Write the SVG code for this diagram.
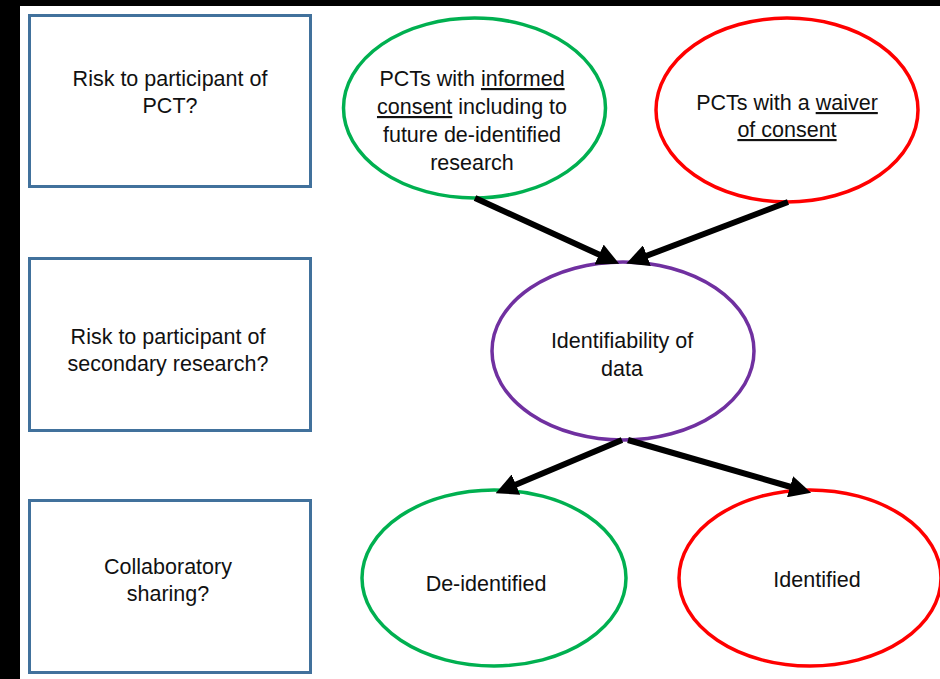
<svg xmlns="http://www.w3.org/2000/svg" width="940" height="679" viewBox="0 0 940 679">
<style>
.box{fill:#fff;stroke:#41719C;stroke-width:3}
.ell{fill:#fff;stroke-width:3.5}
.t{font-family:"Liberation Sans",Arial,sans-serif;font-size:21.5px;fill:#111;text-anchor:middle}
.u{text-decoration:underline}
.con{stroke:#000;stroke-width:6;fill:none}
</style>
<defs>
<marker id="ah" markerUnits="userSpaceOnUse" markerWidth="22" markerHeight="22" viewBox="0 0 22 22" refX="1" refY="11" orient="auto">
<path d="M0,0 L22,11 L0,22 z" fill="#000"/>
</marker>
</defs>
<rect x="0" y="0" width="940" height="679" fill="#000"/>
<rect x="20" y="6" width="920" height="673" fill="#fff"/>

<g id="box-risk-pct">
<rect class="box" x="29.5" y="15.5" width="281" height="171"/>
<text class="t" x="170" y="86">Risk to participant of</text>
<text class="t" x="170" y="113">PCT?</text>
</g>
<g id="box-risk-secondary">
<rect class="box" x="29.5" y="258.5" width="281" height="172"/>
<text class="t" x="168" y="344">Risk to participant of</text>
<text class="t" x="168" y="371">secondary research?</text>
</g>
<g id="box-collab">
<rect class="box" x="29.5" y="500.5" width="281" height="172"/>
<text class="t" x="168" y="574">Collaboratory</text>
<text class="t" x="168" y="601">sharing?</text>
</g>

<g id="ell-informed">
<ellipse class="ell" stroke="#00B050" cx="474.5" cy="108" rx="131" ry="90"/>
<text class="t" x="472" y="86">PCTs with <tspan class="u">informed</tspan></text>
<text class="t" x="472" y="114"><tspan class="u">consent</tspan> including to</text>
<text class="t" x="472" y="142">future de-identified</text>
<text class="t" x="472" y="170">research</text>
</g>
<g id="ell-waiver">
<ellipse class="ell" stroke="#FF0000" cx="787" cy="110" rx="131" ry="92"/>
<text class="t" x="787" y="110">PCTs with a <tspan class="u">waiver</tspan></text>
<text class="t" x="787" y="137"><tspan class="u">of consent</tspan></text>
</g>
<g id="ell-identifiability">
<ellipse class="ell" stroke="#7030A0" cx="623" cy="351" rx="131" ry="89"/>
<text class="t" x="622" y="348">Identifiability of</text>
<text class="t" x="622" y="376">data</text>
</g>
<g id="ell-deidentified">
<ellipse class="ell" stroke="#00B050" cx="494" cy="578" rx="132" ry="88"/>
<text class="t" x="486" y="591">De-identified</text>
</g>
<g id="ell-identified">
<ellipse class="ell" stroke="#FF0000" cx="810" cy="578" rx="131" ry="88"/>
<text class="t" x="817" y="587">Identified</text>
</g>

<g id="connectors">
<line class="con" x1="475" y1="198" x2="600" y2="255" marker-end="url(#ah)"/>
<line class="con" x1="788" y1="202" x2="646" y2="256" marker-end="url(#ah)"/>
<line class="con" x1="622" y1="440" x2="515" y2="485" marker-end="url(#ah)"/>
<line class="con" x1="628" y1="440" x2="791" y2="487" marker-end="url(#ah)"/>
</g>
</svg>
